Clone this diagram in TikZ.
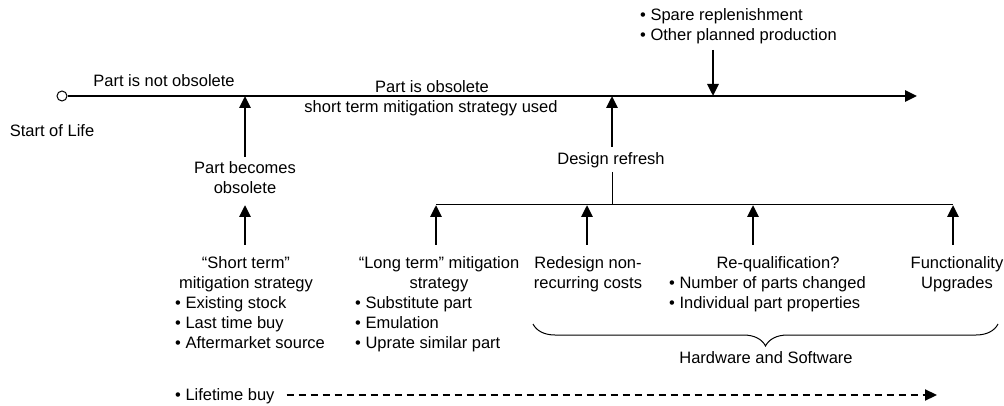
\documentclass[tikz,border=0pt]{standalone}
\usepackage{fontspec}
\setmainfont{Liberation Sans}
\usetikzlibrary{arrows.meta,decorations.pathreplacing}
\begin{document}
\begin{tikzpicture}[x=1pt,y=-1pt,
  every node/.style={font=\fontsize{16.5}{20}\selectfont, inner sep=0pt},
  txt/.style={anchor=north, align=center},
  lst/.style={anchor=north west, align=left},
  thickarr/.style={line width=2.8pt, -{Triangle[length=12pt,width=11pt]}},
  dasharr/.style={line width=2.2pt, dash pattern=on 7pt off 5pt, -{Triangle[length=12pt,width=11pt]}},
  thin/.style={line width=1pt}]
\useasboundingbox (0,0) rectangle (1004,406);
% main time line
\node[circle, draw, line width=1pt, fill=white, minimum size=10pt] (c0) at (62,96) {};
\coordinate (mend) at (917,96);
\draw[thickarr] (c0.east) -- (mend);
\coordinate (m1) at (245,96);
\coordinate (m2) at (612,96);
\coordinate (m3) at (713,96);
% labels on main line
\node (notobs) at (164,81) {Part is not obsolete};
\node (obs) at (432,87) {Part is obsolete};
\node (stused) at (431,108) {short term mitigation strategy used};
\node (sol) at (52,131) {Start of Life};
% top bullets
\node[lst] (spare) at (640,8) {\textbullet\ Spare replenishment\\\textbullet\ Other planned production};
\coordinate (sp0) at (713,50);
\draw[thickarr] (sp0) -- (m3);
% part becomes obsolete
\node[txt] (pbo) at (245,161) {Part becomes\\obsolete};
\coordinate (pb0) at (245,157);
\draw[thickarr] (pb0) -- (m1);
% short term
\node[txt] (stt) at (246,256) {``Short term''\\mitigation strategy};
\node[lst] (stl) at (175,296) {\textbullet\ Existing stock\\\textbullet\ Last time buy\\\textbullet\ Aftermarket source};
\coordinate (st0) at (245,245);
\coordinate (st1) at (245,205);
\draw[thickarr] (st0) -- (st1);
% design refresh
\node[txt] (dr) at (611,152) {Design refresh};
\coordinate (dr0) at (612,147);
\draw[thickarr] (dr0) -- (m2);
\coordinate (dr1) at (612,172);
\coordinate (br) at (612,205);
\coordinate (bl) at (436,205);
\coordinate (brr) at (953,205);
\draw[thin] (dr1) -- (br);
\draw[thin] (bl) -- (brr);
% long term
\node[txt] (ltt) at (439,256) {``Long term'' mitigation\\strategy};
\node[lst] (ltl) at (355,296) {\textbullet\ Substitute part\\\textbullet\ Emulation\\\textbullet\ Uprate similar part};
\coordinate (lt0) at (436,245);
\draw[thickarr] (lt0) -- (bl);
% redesign
\node[txt] (rd) at (588,256) {Redesign non-\\recurring costs};
\coordinate (rd0) at (587,245);
\coordinate (rd1) at (587,205);
\draw[thickarr] (rd0) -- (rd1);
% requalification
\node[txt] (rq) at (778,256) {Re-qualification?};
\node[lst] (rql) at (669,276) {\textbullet\ Number of parts changed\\\textbullet\ Individual part properties};
\coordinate (rq0) at (753,245);
\coordinate (rq1) at (753,205);
\draw[thickarr] (rq0) -- (rq1);
% functionality
\node[txt] (fu) at (957,256) {Functionality\\Upgrades};
\coordinate (fu0) at (953,245);
\draw[thickarr] (fu0) -- (brr);
% brace
\coordinate (b1) at (533,324);
\coordinate (b2) at (998,324);
\draw[thin, decorate, decoration={brace, amplitude=22pt}] (b2) -- (b1);
\node[txt] (hs) at (766,351) {Hardware and Software};
% lifetime buy
\node[lst] (lb) at (175,388) {\textbullet\ Lifetime buy};
\coordinate (lb1) at (937,395);
\draw[dasharr] ([xshift=12pt]lb.east |- lb1) -- (lb1);
\end{tikzpicture}
\end{document}
